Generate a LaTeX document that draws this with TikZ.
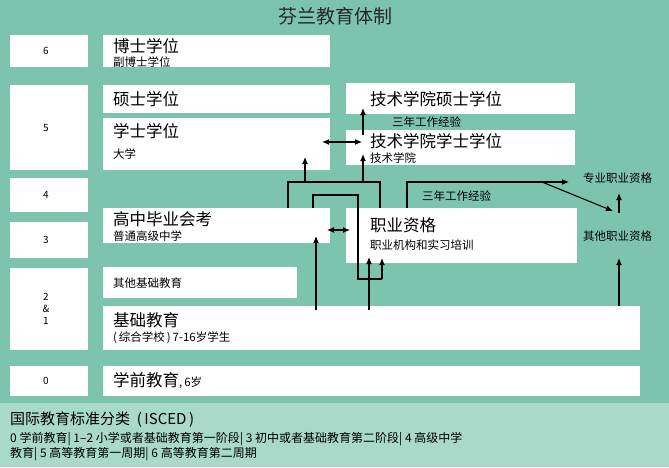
\documentclass[tikz,border=0pt]{standalone}
\usepackage{fontspec}
\setmainfont{Noto Sans CJK SC}
\usetikzlibrary{arrows.meta}
\definecolor{bg}{HTML}{7DC4AF}
\definecolor{lg}{HTML}{A9D9C9}
\tikzset{
 box/.style={fill=white,draw=none,inner sep=0},
 big/.style={font=\fontsize{16.5}{18}\selectfont,anchor=west,inner sep=0},
 sm/.style={font=\fontsize{11.5}{13}\selectfont,anchor=west,inner sep=0},
 con/.style={line width=1.1pt,-{Latex[length=7pt,width=6pt]}},
 dcon/.style={line width=1.1pt,{Latex[length=7pt,width=6pt]}-{Latex[length=7pt,width=6pt]}},
 ln/.style={line width=1.1pt},
}
\begin{document}
\begin{tikzpicture}[x=1pt,y=-1pt]
\fill[bg] (0,0) rectangle (669,467);
\fill[lg] (0,403) rectangle (669,467);
\node[font=\fontsize{19}{21}\selectfont,text=black!85] (title) at (335,16) {芬兰教育体制};
% level boxes
\foreach \n/\a/\b/\t in {l6/35/67/6,l5/85/170/5,l4/178/212/4,l3/222/258/3,l0/366/396/0}{
 \fill[white] (10,\a) rectangle (88,\b);
 \node[font=\normalsize] (\n) at (46,{(\a+\b)/2}) {\t};}
\fill[white] (10,268) rectangle (88,350);
\node[font=\normalsize,align=center] (l21) at (46,309) {2\\\&\\1};
% boxes
\fill[white] (103,35) rectangle (330,67);
\node[big] (bs) at (113,46) {博士学位};
\node[sm] (fbs) at (113,62) {副博士学位};
\fill[white] (103,85) rectangle (330,113);
\node[big] (ss) at (113,99) {硕士学位};
\fill[white] (103,118) rectangle (330,170);
\node[big] (xs) at (113,131) {学士学位};
\node[sm] (dx) at (113,154) {大学};
\fill[white] (346,83) rectangle (575,114);
\node[big] (jss) at (370,99) {技术学院硕士学位};
\fill[white] (346,130) rectangle (575,165);
\node[big] (jxs) at (370,141) {技术学院学士学位};
\node[sm] (jx) at (370,158) {技术学院};
\fill[white] (103,208) rectangle (330,243);
\node[big] (gz) at (113,219) {高中毕业会考};
\node[sm] (pt) at (113,236) {普通高级中学};
\fill[white] (346,208) rectangle (577,263);
\node[big] (zy) at (370,225) {职业资格};
\node[sm] (zyj) at (370,245) {职业机构和实习培训};
\fill[white] (103,267) rectangle (297,298);
\node[sm] (qt) at (113,283) {其他基础教育};
\fill[white] (103,306) rectangle (640,350);
\node[big] (jc) at (113,320) {基础教育};
\node[sm] (zh) at (113,338) {(\,综合学校\,)\,7-16岁学生};
\fill[white] (103,366) rectangle (640,396);
\node[big] (xq) at (113,381) {学前教育\fontsize{11.5}{13}\selectfont ,\,6岁};
\node[sm] (zyzg) at (583,178) {专业职业资格};
\node[sm] (qtzg) at (583,236) {其他职业资格};
\node[sm] (sn1) at (392,122) {三年工作经验};
\node[sm] (sn2) at (422,196) {三年工作经验};
% connectors
\draw[con] (363,135) -- (363,108);
\draw[dcon] (322,142) -- (362,142);
\draw[ln] (288,208) -- (288,182) -- (380,182) -- (380,208);
\draw[con] (305,182) -- (305,157);
\draw[con] (363,182) -- (363,154);
\draw[ln] (313,208) -- (313,195) -- (358,195) -- (358,279) -- (382,279);
\draw[con] (382,279) -- (382,258);
\draw[dcon] (327,230) -- (350,230);
\draw[con] (316,310) -- (316,236);
\draw[con] (369,310) -- (369,257);
\coordinate (c1) at (407,208);
\draw[con] (c1) -- (407,182) -- (569,182);
\draw[con] (542,182) -- (613,211);
\draw[con] (619,213) -- (619,193);
\draw[con] (619,306) -- (619,258);
% legend
\node[font=\fontsize{15}{17}\selectfont,anchor=west,inner sep=0] (lt) at (10,420) {国际教育标准分类\ \ (\,ISCED\,)};
\node[font=\fontsize{12}{15}\selectfont,anchor=north west,inner sep=0,align=left] (lx) at (10,432) {0 学前教育| 1–2 小学或者基础教育第一阶段| 3 初中或者基础教育第二阶段| 4 高级中学\\教育| 5 高等教育第一周期| 6 高等教育第二周期};
\end{tikzpicture}
\end{document}
